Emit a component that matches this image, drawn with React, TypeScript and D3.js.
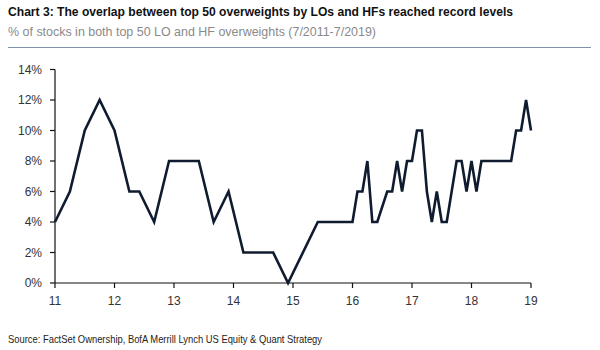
import React from "react";
import * as d3 from "d3";

// months since 7/2011 (vertices of the series) and % of stocks
const monthIndex = [0, 3, 6, 9, 12, 15, 17, 20, 23, 29, 32, 35, 38, 44, 47, 53, 60, 61, 62, 63, 64, 65, 67, 68, 69, 70, 71, 72, 73, 74, 75, 76, 77, 78, 79, 81, 82, 83, 84, 85, 86, 92, 93, 94, 95, 96];
const overlapPct = [4, 6, 10, 12, 10, 6, 6, 4, 8, 8, 4, 6, 2, 2, 0, 4, 4, 6, 6, 8, 4, 4, 6, 6, 8, 6, 8, 8, 10, 10, 6, 4, 6, 4, 4, 8, 8, 6, 8, 6, 8, 8, 10, 10, 12, 10];
const yearTickLabels = ["11", "12", "13", "14", "15", "16", "17", "18", "19"];
const yTicks = [0, 2, 4, 6, 8, 10, 12, 14];

const title = "Chart 3: The overlap between top 50 overweights by LOs and HFs reached record levels";
const subtitle = "% of stocks in both top 50 LO and HF overweights (7/2011-7/2019)";
const source = "Source: FactSet Ownership, BofA Merrill Lynch US Equity & Quant Strategy";

export default function App() {
  const W = 600, H = 350;
  const left = 55, right = 531, top = 69.5, bottom = 283;
  const x = d3.scaleLinear().domain([0, 96]).range([left, right]);
  const y = d3.scaleLinear().domain([0, 14]).range([bottom, top]);
  const pts = monthIndex.map((m, i) => [m, overlapPct[i]] as [number, number]);
  const line = d3.line<[number, number]>().x(d => x(d[0])).y(d => y(d[1]));
  const font = "'Liberation Sans', Arial, sans-serif";

  return (
    <svg width={W} height={H} style={{ position: "absolute", left: 0, top: 0, background: "#fff" }} fontFamily={font}>
      <rect width={W} height={H} fill="#fff" />
      <text x={8} y={16} fontSize={13} fontWeight="bold" fill="#111" textLength={505} lengthAdjust="spacingAndGlyphs">{title}</text>
      <text x={8} y={35.5} fontSize={12.5} fill="#8a8a8a" textLength={368} lengthAdjust="spacingAndGlyphs">{subtitle}</text>
      <line x1={8} x2={591} y1={47.5} y2={47.5} stroke="#8090a8" strokeWidth={1.2} />

      {/* y axis */}
      <line x1={left} x2={left} y1={top} y2={bottom} stroke="#111" strokeWidth={1.2} />
      {yTicks.map(t => (
        <g key={t}>
          <line x1={left - 5} x2={left} y1={y(t)} y2={y(t)} stroke="#111" strokeWidth={1.2} />
          <text x={42} y={y(t)} dy="0.35em" textAnchor="end" fontSize={12} fill="#333">{t}%</text>
        </g>
      ))}

      {/* x axis */}
      <line x1={left} x2={right} y1={bottom} y2={bottom} stroke="#111" strokeWidth={1.2} />
      {yearTickLabels.map((lab, i) => (
        <g key={lab}>
          <line x1={x(i * 12)} x2={x(i * 12)} y1={bottom} y2={bottom + 5} stroke="#111" strokeWidth={1.2} />
          <text x={x(i * 12)} y={305} textAnchor="middle" fontSize={12} fill="#333">{lab}</text>
        </g>
      ))}

      <path d={line(pts) || ""} fill="none" stroke="#0f1c30" strokeWidth={2.6} strokeLinejoin="miter" />

      <text x={8} y={343} fontSize={10.5} fill="#222" textLength={314} lengthAdjust="spacingAndGlyphs">{source}</text>
    </svg>
  );
}
